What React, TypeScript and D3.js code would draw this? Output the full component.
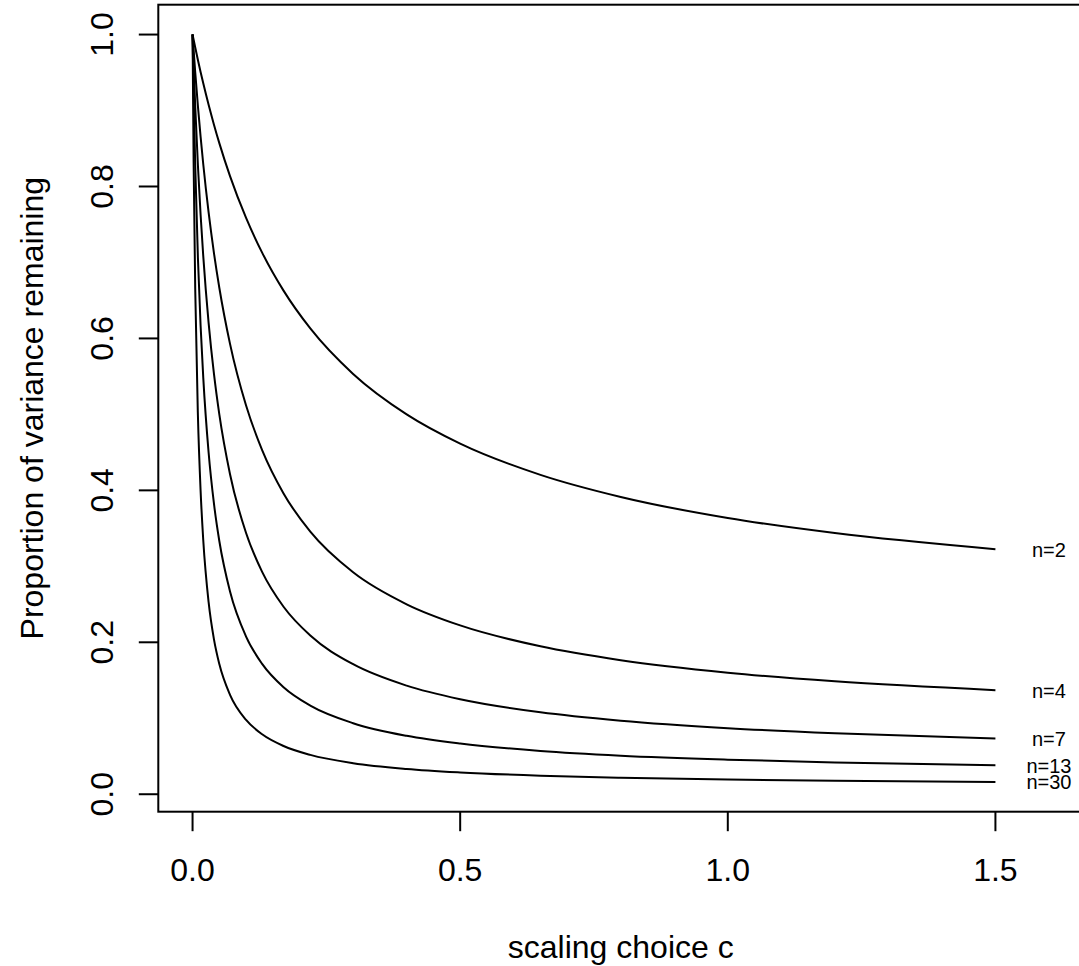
import React from 'react';
import * as d3 from 'd3';

// scaling choice c (x values shared by all curves)
const cValues = [0, 0.002, 0.005, 0.01, 0.015, 0.02, 0.03, 0.04, 0.05, 0.07, 0.1, 0.13, 0.17, 0.22, 0.3, 0.4, 0.5, 0.65, 0.8, 1.0, 1.2, 1.5];

// proportion of variance remaining
const n2 = [1, 0.9931, 0.9829, 0.9665, 0.9508, 0.9358, 0.9075, 0.8814, 0.8571, 0.8137, 0.7586, 0.7129, 0.6629, 0.6131, 0.5532, 0.5, 0.4615, 0.4204, 0.3913, 0.3636, 0.3438, 0.3226];
const n4 = [1, 0.9795, 0.9504, 0.9058, 0.8657, 0.8293, 0.7658, 0.7123, 0.6667, 0.5928, 0.5116, 0.4529, 0.3959, 0.3456, 0.2921, 0.25, 0.2222, 0.1947, 0.1765, 0.16, 0.1486, 0.137];
const n7 = [1, 0.9598, 0.9054, 0.8279, 0.7632, 0.7083, 0.6205, 0.5532, 0.5, 0.4213, 0.3438, 0.2927, 0.2468, 0.2089, 0.1711, 0.1429, 0.125, 0.1078, 0.0968, 0.087, 0.0803, 0.0735];
const n13 = [1, 0.9227, 0.8272, 0.7063, 0.617, 0.5484, 0.4498, 0.3824, 0.3333, 0.2668, 0.2075, 0.1715, 0.1408, 0.1166, 0.0935, 0.0769, 0.0667, 0.057, 0.0508, 0.0455, 0.0418, 0.0382];
const n30 = [1, 0.8315, 0.6645, 0.4988, 0.4, 0.3344, 0.2528, 0.2039, 0.1714, 0.1309, 0.0978, 0.0789, 0.0635, 0.0518, 0.0409, 0.0333, 0.0287, 0.0244, 0.0217, 0.0193, 0.0177, 0.0162];

const seriesNames = ['n=2', 'n=4', 'n=7', 'n=13', 'n=30'];
const seriesValues = [n2, n4, n7, n13, n30];

const xTicks = [0, 0.5, 1.0, 1.5];
const yTicks = [0, 0.2, 0.4, 0.6, 0.8, 1.0];
const labelC = 1.6;

const xTitle = 'scaling choice c';
const yTitle = 'Proportion of variance remaining';

export default function App() {
  const W = 1079;
  const H = 966;
  const left = 158.3;
  const right = 1083.2;
  const top = 4.7;
  const bottom = 811.7;
  const font = "'Liberation Sans', Arial, Helvetica, sans-serif";
  const fs = 32;
  const tickLen = 19.5;

  const x = d3.scaleLinear().domain([-0.064, 1.664]).range([left, right]);
  const y = d3.scaleLinear().domain([-0.023, 1.0393]).range([bottom, top]);

  const line = d3
    .line<number>()
    .x((_, i) => x(cValues[i]))
    .y((d) => y(d))
    .curve(d3.curveMonotoneX);

  const fmt = d3.format('.1f');

  return (
    <svg
      width={W}
      height={H}
      viewBox={`0 0 ${W} ${H}`}
      style={{ position: 'absolute', left: 0, top: 0, background: '#fff' }}
    >
      <rect x={0} y={0} width={W} height={H} fill="#fff" />
      {seriesValues.map((vals, k) => (
        <path key={k} d={line(vals) || ''} fill="none" stroke="#000" strokeWidth={2} />
      ))}
      {seriesValues.map((vals, k) => (
        <text
          key={'l' + k}
          x={x(labelC)}
          y={y(vals[vals.length - 1]) + 7.5}
          textAnchor="middle"
          fontFamily={font}
          fontSize={20}
          fill="#000"
        >
          {seriesNames[k]}
        </text>
      ))}
      {/* box */}
      <rect x={left} y={top} width={right - left} height={bottom - top} fill="none" stroke="#000" strokeWidth={2} />
      {/* x axis */}
      {xTicks.map((t) => (
        <g key={'x' + t}>
          <line x1={x(t)} x2={x(t)} y1={bottom} y2={bottom + tickLen} stroke="#000" strokeWidth={2} />
          <text x={x(t)} y={880.7} textAnchor="middle" fontFamily={font} fontSize={fs} fill="#000">
            {fmt(t)}
          </text>
        </g>
      ))}
      {/* y axis */}
      {yTicks.map((t) => (
        <g key={'y' + t}>
          <line x1={left} x2={left - tickLen} y1={y(t)} y2={y(t)} stroke="#000" strokeWidth={2} />
          <text
            transform={`translate(${112.7},${y(t)}) rotate(-90)`}
            textAnchor="middle"
            fontFamily={font}
            fontSize={fs}
            fill="#000"
          >
            {fmt(t)}
          </text>
        </g>
      ))}
      <text x={(left + right) / 2} y={958.3} textAnchor="middle" fontFamily={font} fontSize={fs} fill="#000">
        {xTitle}
      </text>
      <text
        transform={`translate(${43},${(top + bottom) / 2}) rotate(-90)`}
        textAnchor="middle"
        fontFamily={font}
        fontSize={fs}
        fill="#000"
      >
        {yTitle}
      </text>
    </svg>
  );
}
